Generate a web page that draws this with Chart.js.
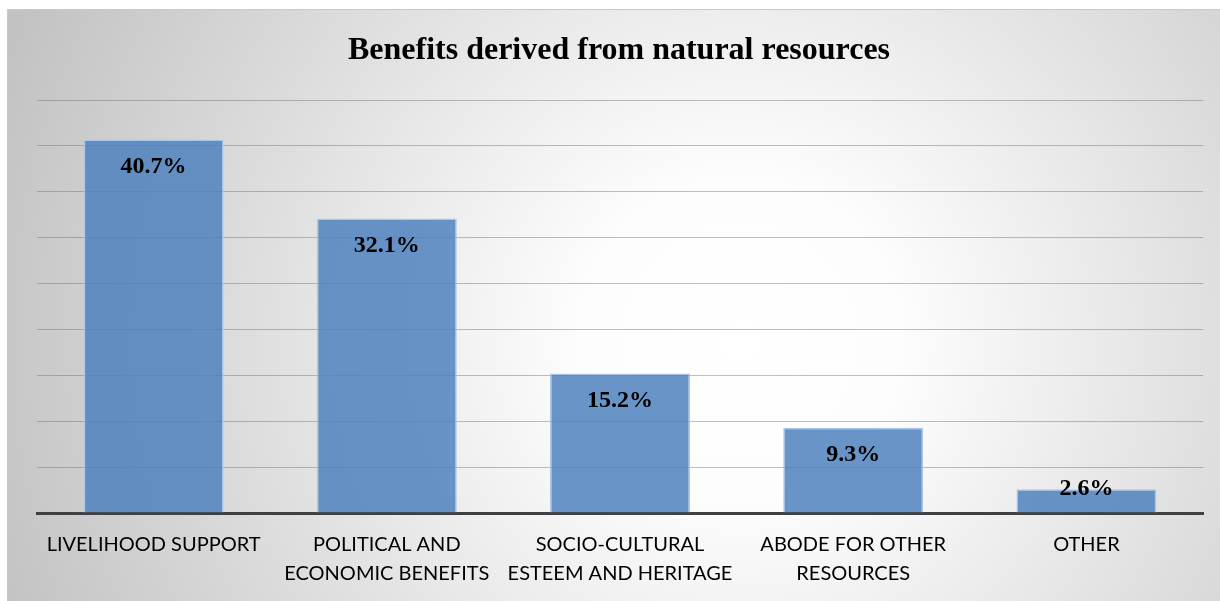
<!DOCTYPE html>
<html>
<head>
<meta charset="utf-8">
<script src="https://cdn.jsdelivr.net/npm/chart.js@4"></script>
<style>
html,body{margin:0;padding:0;background:#fff;}
#wrap{position:absolute;left:0;top:0;width:1220px;height:601px;}
</style>
</head>
<body>
<div id="wrap"><canvas id="c" width="1220" height="601"></canvas></div>
<script>
const categories = [
  ["LIVELIHOOD SUPPORT"],
  ["POLITICAL AND", "ECONOMIC BENEFITS"],
  ["SOCIO-CULTURAL", "ESTEEM AND HERITAGE"],
  ["ABODE FOR OTHER", "RESOURCES"],
  ["OTHER"]
];
const values = [40.7, 32.1, 15.2, 9.3, 2.6];
const valueLabels = ["40.7%", "32.1%", "15.2%", "9.3%", "2.6%"];
const chartTitle = "Benefits derived from natural resources";

const bgPlugin = {
  id: 'bg',
  beforeDraw(chart) {
    const ctx = chart.ctx;
    ctx.save();
    ctx.fillStyle = '#ffffff';
    ctx.fillRect(0, 0, chart.width, chart.height);
    const g = ctx.createRadialGradient(740, 340, 0, 740, 340, 790);
    g.addColorStop(0, '#ffffff');
    g.addColorStop(0.2, '#fdfdfd');
    g.addColorStop(1, '#c2c2c2');
    ctx.fillStyle = g;
    ctx.fillRect(7, 9, chart.width - 7, chart.height - 9);
    ctx.strokeStyle = '#c9c9c9';
    ctx.lineWidth = 1;
    ctx.beginPath();
    ctx.moveTo(7.5, chart.height);
    ctx.lineTo(7.5, 9.5);
    ctx.lineTo(chart.width, 9.5);
    ctx.stroke();
    // title
    ctx.fillStyle = '#000';
    ctx.font = 'bold 32px "Liberation Serif", "Times New Roman", serif';
    ctx.textAlign = 'center';
    ctx.textBaseline = 'middle';
    ctx.fillText(chartTitle, 619, 51);
    ctx.restore();
  }
};

const labelPlugin = {
  id: 'vlabels',
  afterDatasetsDraw(chart) {
    const ctx = chart.ctx;
    const meta = chart.getDatasetMeta(0);
    const base = chart.scales.y.getPixelForValue(0);
    ctx.save();
    ctx.fillStyle = '#000';
    ctx.font = 'bold 24px "Liberation Serif", "Times New Roman", serif';
    ctx.textAlign = 'center';
    ctx.textBaseline = 'middle';
    meta.data.forEach((bar, i) => {
      const y = Math.min(bar.y + 27, base - 24);
      ctx.fillText(valueLabels[i], bar.x, y);
    });
    ctx.restore();
  }
};

new Chart(document.getElementById('c'), {
  type: 'bar',
  data: {
    labels: categories,
    datasets: [{
      data: values,
      backgroundColor: 'rgba(79,129,189,0.85)',
      borderColor: 'rgba(170,198,232,1)',
      borderWidth: 1.5,
      barPercentage: 0.6,
      categoryPercentage: 1.0
    }]
  },
  options: {
    responsive: false,
    animation: false,
    events: [],
    layout: { padding: { left: 37, right: 17, top: 100, bottom: 0 } },
    plugins: { legend: { display: false }, title: { display: false }, tooltip: { enabled: false } },
    scales: {
      y: {
        min: 0, max: 45,
        ticks: { display: false, stepSize: 5 },
        grid: { color: 'rgba(110,110,110,0.45)', lineWidth: 1, drawTicks: false },
        border: { display: false },
        afterFit(s) { s.width = 0; }
      },
      x: {
        grid: { display: false, drawTicks: false },
        border: { display: true, color: '#404040', width: 3 },
        ticks: {
          color: '#000',
          font: { family: 'Lato, "Open Sans", sans-serif', size: 20, lineHeight: 1.45 },
          padding: 17,
          maxRotation: 0,
          autoSkip: false
        },
        afterFit(s) { s.height = 88; }
      }
    }
  },
  plugins: [bgPlugin, labelPlugin]
});
</script>
</body>
</html>
